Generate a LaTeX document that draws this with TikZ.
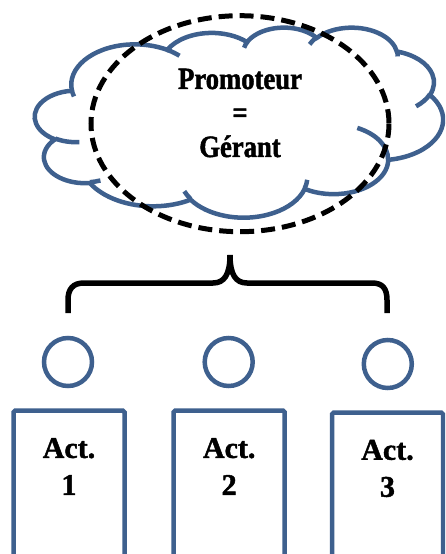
\documentclass[tikz,border=0pt]{standalone}
\usepackage{fontspec}
\setmainfont{Liberation Serif}[BoldFont={Liberation Serif Bold}, BoldFeatures={FakeBold=1.5}]
\newfontfamily\condserif{Liberation Serif}[BoldFont={Liberation Serif Bold}, FakeStretch=0.86, BoldFeatures={FakeBold=1.5}]
\usetikzlibrary{shapes.geometric}
\definecolor{pptblue}{RGB}{62,96,142}
\newcommand\mkarc[5]{%
  \pgfmathsetmacro\cldtA{atan2((#2)*sin(#4),(#3)*cos(#4))}%
  \pgfmathsetmacro\cldtB{atan2((#2)*sin((#4)+(#5)),(#3)*cos((#4)+(#5)))}%
  \pgfmathsetmacro\cldtD{mod((\cldtB)-(\cldtA)+720,360)}%
  \pgfmathsetmacro\cldtE{(\cldtA)+(\cldtD)}%
  \expandafter\xdef\csname #1s\endcsname{\cldtA}%
  \expandafter\xdef\csname #1e\endcsname{\cldtE}%
}
\mkarc{cA}{67.53}{91.90}{-190.48748}{123.78053}
\mkarc{cB}{53.33}{72.67}{-144.10238}{89.94523}
\mkarc{cC}{43.65}{59.45}{-145.80792}{99.72302}
\mkarc{cD}{48.57}{65.95}{-130.98607}{117.24173}
\mkarc{cE}{53.33}{72.73}{-78.70888}{109.02692}
\mkarc{cF}{67.75}{92.20}{-46.26725}{130.269}
\mkarc{cG}{57.85}{78.67}{0.62502}{114.03333}
\mkarc{cH}{67.52}{92.15}{22.4516}{115.17255}
\mkarc{cI}{77.20}{105.43}{66.24263}{75.71102}
\mkarc{cJ}{43.60}{59.18}{-274.94208}{146.73557}
\mkarc{cK}{43.45}{59.45}{-246.8285}{152.51885}
\mkarc{hA}{43.45}{59.45}{86.742}{26.4295}
\mkarc{hB}{43.60}{59.18}{73.61047}{11.44747}
\mkarc{hC}{67.52}{92.15}{137.62415}{14.0811}
\mkarc{hD}{67.52}{92.15}{6.45327}{15.99835}
\mkarc{hE}{57.85}{78.67}{-70.29235}{70.91737}
\mkarc{hF}{53.33}{72.73}{30.31803}{27.7515}
\mkarc{hG}{48.57}{65.95}{-13.74433}{14.8589}
\mkarc{hH}{48.57}{65.95}{-149.18145}{18.19537}
\mkarc{hI}{43.65}{59.45}{-163.49427}{17.68635}
\mkarc{hJ}{67.53}{91.90}{-66.70695}{12.31935}
\mkarc{hK}{67.53}{91.90}{157.65435}{11.85817}
\tikzset{
  cloudline/.style={draw=pptblue, line width=4.5pt, fill=white},
  hookline/.style={draw=pptblue, line width=4.5pt},
  dashoval/.style={draw=black, line width=5pt, dash pattern=on 14pt off 7pt},
  ring/.style={circle, draw=pptblue, line width=4.5pt, minimum size=48pt, inner sep=0pt},
  actbox/.style={rectangle, draw=pptblue, line width=4.5pt, minimum width=111pt, minimum height=200pt, inner sep=0pt, rounded corners=1.5pt},
  acttext/.style={align=center, inner sep=0pt, font=\bfseries\fontsize{30}{37}\selectfont},
  cloudtext/.style={align=center, inner sep=0pt, font=\condserif\bfseries\fontsize{31}{34}\selectfont},
  bracestyle/.style={draw=black, line width=5.5pt}
}
\begin{document}
\begin{tikzpicture}[x=1pt, y=-1pt]
\useasboundingbox (0,0) rectangle (445,554);
\clip (0,0) rectangle (445,554);
% cloud
\begin{scope}[shift={(35,27)}, xscale=0.9444, yscale=0.4398]
\draw[cloudline] (39.00,143.70)
  arc[start angle=\cAs, end angle=\cAe, x radius=67.53, y radius=91.90]
  arc[start angle=\cBs, end angle=\cBe, x radius=53.33, y radius=72.67]
  arc[start angle=\cCs, end angle=\cCe, x radius=43.65, y radius=59.45]
  arc[start angle=\cDs, end angle=\cDe, x radius=48.57, y radius=65.95]
  arc[start angle=\cEs, end angle=\cEe, x radius=53.33, y radius=72.73]
  arc[start angle=\cFs, end angle=\cFe, x radius=67.75, y radius=92.20]
  arc[start angle=\cGs, end angle=\cGe, x radius=57.85, y radius=78.67]
  arc[start angle=\cHs, end angle=\cHe, x radius=67.52, y radius=92.15]
  arc[start angle=\cIs, end angle=\cIe, x radius=77.20, y radius=105.43]
  arc[start angle=\cJs, end angle=\cJe, x radius=43.60, y radius=59.18]
  arc[start angle=\cKs, end angle=\cKe, x radius=43.45, y radius=59.45]
  -- cycle;
\draw[hookline] (46.93,261.77) arc[start angle=\hAs, end angle=\hAe, x radius=43.45, y radius=59.45];
\draw[hookline] (69.28,348.99) arc[start angle=\hBs, end angle=\hBe, x radius=43.60, y radius=59.18];
\draw[hookline] (164.78,390.90) arc[start angle=\hCs, end angle=\hCe, x radius=67.52, y radius=92.15];
\draw[hookline] (288.27,347.51) arc[start angle=\hDs, end angle=\hDe, x radius=67.52, y radius=92.15];
\draw[hookline] (341.29,229.54) arc[start angle=\hEs, end angle=\hEe, x radius=57.85, y radius=78.67];
\draw[hookline] (417.98,153.54) arc[start angle=\hFs, end angle=\hFe, x radius=53.33, y radius=72.73];
\draw[hookline] (383.24,54.26) arc[start angle=\hGs, end angle=\hGe, x radius=48.57, y radius=65.95];
\draw[hookline] (290.78,39.52) arc[start angle=\hHs, end angle=\hHe, x radius=48.57, y radius=65.95];
\draw[hookline] (221.41,47.20) arc[start angle=\hIs, end angle=\hIe, x radius=43.65, y radius=59.45];
\draw[hookline] (140.00,51.92) arc[start angle=\hJs, end angle=\hJe, x radius=67.53, y radius=91.90];
\draw[hookline] (41.27,157.89) arc[start angle=\hKs, end angle=\hKe, x radius=67.53, y radius=91.90];
\end{scope}
% dashed oval
\draw[dashoval] (240,123.7) ellipse [x radius=149, y radius=108];
\node[cloudtext] (ptxt) at (240,113) {Promoteur\\=\\Gérant};
% brace
\draw[bracestyle] (68,313) -- (68,300) .. controls (68,289) and (73,283) .. (84,283) -- (213,283)
  .. controls (224,283) and (230,275) .. (230,255)
  .. controls (230,275) and (236,283) .. (247,283) -- (372,283)
  .. controls (383,283) and (387,289) .. (387,300) -- (387,313);
% rings
\node[ring] (c1) at (68,362) {};
\node[ring] (c2) at (228.7,362) {};
\node[ring] (c3) at (387.8,364) {};
% boxes
\node[actbox] (b1) at (69,510.7) {};
\node[actbox] (b2) at (229.2,510.7) {};
\node[actbox] (b3) at (387.5,512.7) {};
\node[acttext] (t1) at (69,466.5) {Act.\\1};
\node[acttext] (t2) at (229.2,466.5) {Act.\\2};
\node[acttext] (t3) at (387.5,468.5) {Act.\\3};
\end{tikzpicture}
\end{document}
